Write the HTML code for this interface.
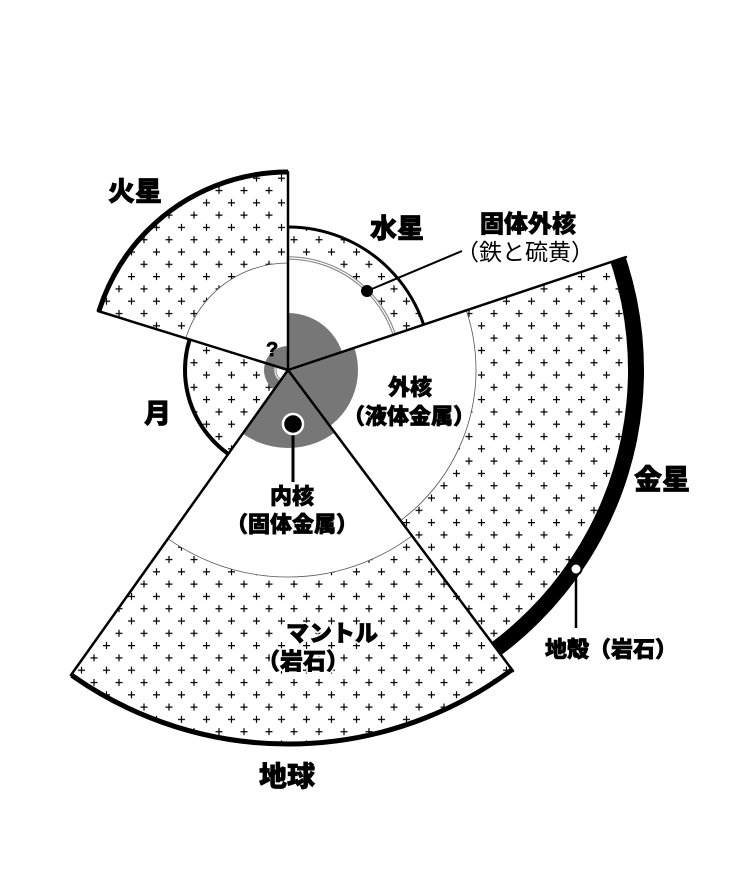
<!DOCTYPE html>
<html><head><meta charset="utf-8"><style>
html,body{margin:0;padding:0;background:#fff;width:756px;height:875px;overflow:hidden}
svg{display:block}
text{font-family:"Liberation Sans","Noto Sans CJK JP",sans-serif;fill:#000}
.b{font-weight:900;stroke:#000;stroke-width:0.7}
.h{font-weight:900;stroke:#fff;stroke-width:4;fill:#fff;stroke-linejoin:round}
</style></head><body>
<svg width="756" height="875" viewBox="0 0 756 875" xmlns="http://www.w3.org/2000/svg">
<defs>
<pattern id="pp" patternUnits="userSpaceOnUse" width="25" height="24.6">
<rect width="25" height="24.6" fill="#fff"/>
<path d="M3 6h7M6.5 2.5v7M15.5 18.3h7M19 14.8v7" stroke="#000" stroke-width="1.2"/>
</pattern>
<clipPath id="cE"><polygon points="288,370 885.6,1171.8 300.2,1370 -289.9,1186.1"/></clipPath>
<clipPath id="cV"><polygon points="288,370 1236.3,52.7 1242.2,669 885.6,1171.8"/></clipPath>
<clipPath id="cMe"><polygon points="288,370 288,-630 872.2,-441.6 1236.3,52.7"/></clipPath>
<clipPath id="cMa"><polygon points="288,370 -667.3,74.3 -305.4,-434.9 288,-630"/></clipPath>
<clipPath id="cMo"><polygon points="288,370 -289.9,1186.1 -658.9,691.4 -667.3,74.3"/></clipPath>
</defs>

<g clip-path="url(#cE)">
<circle cx="288" cy="370" r="374" fill="url(#pp)" stroke="#000" stroke-width="5"/>
<circle cx="288" cy="370" r="207" fill="#fff" stroke="#555" stroke-width="0.8"/>
<circle cx="288" cy="370" r="78" fill="#777"/>
</g>
<g clip-path="url(#cV)">
<circle cx="288" cy="370" r="356" fill="#000"/>
<circle cx="288" cy="370" r="340" fill="url(#pp)"/>
<circle cx="288" cy="370" r="188" fill="#fff" stroke="#555" stroke-width="0.8"/>
<circle cx="288" cy="370" r="70" fill="#777"/>
</g>
<g clip-path="url(#cMe)">
<circle cx="288" cy="370" r="143" fill="url(#pp)" stroke="#000" stroke-width="3"/>
<circle cx="288" cy="370" r="112" fill="#fff" stroke="#888" stroke-width="3.5"/>
<circle cx="288" cy="370" r="112" fill="none" stroke="#fff" stroke-width="1.2"/>
<circle cx="288" cy="370" r="57" fill="#777"/>
</g>
<g clip-path="url(#cMa)">
<circle cx="288" cy="370" r="198" fill="url(#pp)" stroke="#000" stroke-width="5"/>
<circle cx="288" cy="370" r="107" fill="#fff" stroke="#555" stroke-width="0.8"/>
<circle cx="288" cy="370" r="24" fill="#777"/>
</g>
<g clip-path="url(#cMo)">
<circle cx="288" cy="370" r="103" fill="url(#pp)" stroke="#000" stroke-width="4"/>
<circle cx="288" cy="370" r="24" fill="#777"/>
<circle cx="288" cy="370" r="13" fill="#fff" stroke="#888" stroke-width="3"/>
<circle cx="288" cy="370" r="13" fill="none" stroke="#fff" stroke-width="1"/>
</g>

<g stroke="#000" stroke-width="2.5" stroke-linecap="round">
<line x1="288" y1="370" x2="71" y2="675"/>
<line x1="288" y1="370" x2="513" y2="671"/>
<line x1="288" y1="370" x2="626" y2="257"/>
<line x1="288" y1="370" x2="288" y2="172"/>
<line x1="288" y1="370" x2="98" y2="311"/>
</g>

<line x1="293" y1="424" x2="293" y2="482" stroke="#000" stroke-width="3"/>
<circle cx="293" cy="424" r="10" fill="#000" stroke="#fff" stroke-width="2.5"/>
<line x1="367" y1="291" x2="462" y2="251" stroke="#000" stroke-width="2"/>
<circle cx="367" cy="291" r="6" fill="#000"/>
<line x1="576" y1="575" x2="576" y2="628" stroke="#000" stroke-width="2.5"/>
<circle cx="576" cy="569" r="5.5" fill="#fff" stroke="#000" stroke-width="2"/>

<g text-anchor="middle">
<text class="h" x="410" y="395" font-size="22">外核</text>
<text class="h" x="409" y="424" font-size="22">（液体金属）</text>
<text class="h" x="292" y="504" font-size="22">内核</text>
<text class="h" x="292" y="532" font-size="22">（固体金属）</text>
<text class="h" x="332" y="641" font-size="23">マントル</text>
<text class="h" x="303" y="669" font-size="23">（岩石）</text>
</g>

<text class="b" x="108" y="201" font-size="27">火星</text>
<text class="b" x="370" y="238" font-size="27">水星</text>
<text class="b" x="528" y="232" font-size="24" text-anchor="middle">固体外核</text>
<text x="525" y="260" font-size="23" text-anchor="middle">（鉄と硫黄）</text>
<text class="b" x="266" y="356" font-size="20">?</text>
<text class="b" x="144" y="423" font-size="27">月</text>
<text class="b" x="662" y="489" font-size="28" text-anchor="middle">金星</text>
<text class="b" x="611" y="657" font-size="22" text-anchor="middle">地殻（岩石）</text>
<text class="b" x="287" y="786" font-size="28" text-anchor="middle">地球</text>
<g text-anchor="middle">
<text class="b" x="410" y="395" font-size="22">外核</text>
<text class="b" x="409" y="424" font-size="22">（液体金属）</text>
<text class="b" x="292" y="504" font-size="22">内核</text>
<text class="b" x="292" y="532" font-size="22">（固体金属）</text>
<text class="b" x="332" y="641" font-size="23">マントル</text>
<text class="b" x="303" y="669" font-size="23">（岩石）</text>
</g>
</svg>
</body></html>
